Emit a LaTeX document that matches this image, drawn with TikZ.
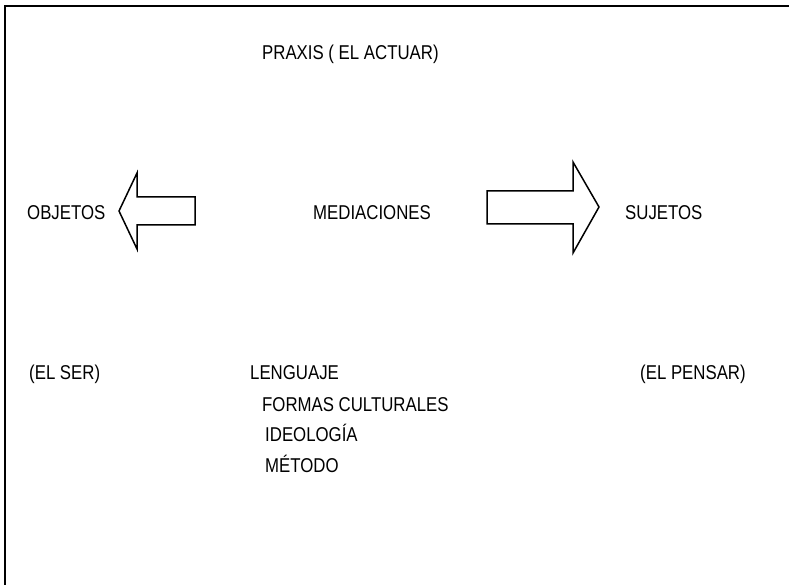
\documentclass[tikz,border=0pt]{standalone}
\usepackage{fontspec}
\setmainfont{Liberation Sans}[FakeStretch=0.84]
\usepackage{tikz}
\usetikzlibrary{positioning, calc}
\tikzset{
  esquema/.style={
	x=1pt, y=-1pt, % one unit is one pixel of the page, y downwards
	line join=miter,
  },
  palabra/.style={
	font=\fontsize{20}{24}\selectfont, % sets the size of the words
	inner sep=0pt, anchor=west, % nodes are placed by their left end
	text height=14.3pt, text depth=0pt, % same box for every word
  },
  flecha/.style={draw=black, line width=1.5pt, fill=white}, % the two block arrows
  marco/.style={draw=black, line width=2.3pt}, % the frame round the page
}
\begin{document}
\begin{tikzpicture}[esquema]
	\useasboundingbox (0,0) rectangle (789,585);
	\draw[marco] (5,585) -- (5,6) -- (789,6);

	\node[palabra] (praxis) at (262,52) {PRAXIS ( EL ACTUAR)};
	\node[palabra] (objetos) at (27,212) {OBJETOS};
	\node[palabra] (mediaciones) at (313,212) {MEDIACIONES};
	\node[palabra] (sujetos) at (625,212) {SUJETOS};
	\node[palabra] (ser) at (29,372) {(EL SER)};
	\node[palabra] (lenguaje) at (250,372) {LENGUAJE};
	\node[palabra] (pensar) at (640,372) {(EL PENSAR)};
	\node[palabra] (formas) at (262,404) {FORMAS CULTURALES};
	\node[palabra] (ideologia) at (265,434) {IDEOLOGÍA};
	\node[palabra] (metodo) at (265,465) {MÉTODO};

	\draw[flecha] (119,211) -- (137,173) -- (137,197) -- (195,197)
		-- (195,225) -- (137,225) -- (137,249) -- cycle;
	\draw[flecha] (487,191) -- (573,191) -- (573,162) -- (599,207)
		-- (573,253) -- (573,224) -- (487,224) -- cycle;
\end{tikzpicture}
\end{document}
